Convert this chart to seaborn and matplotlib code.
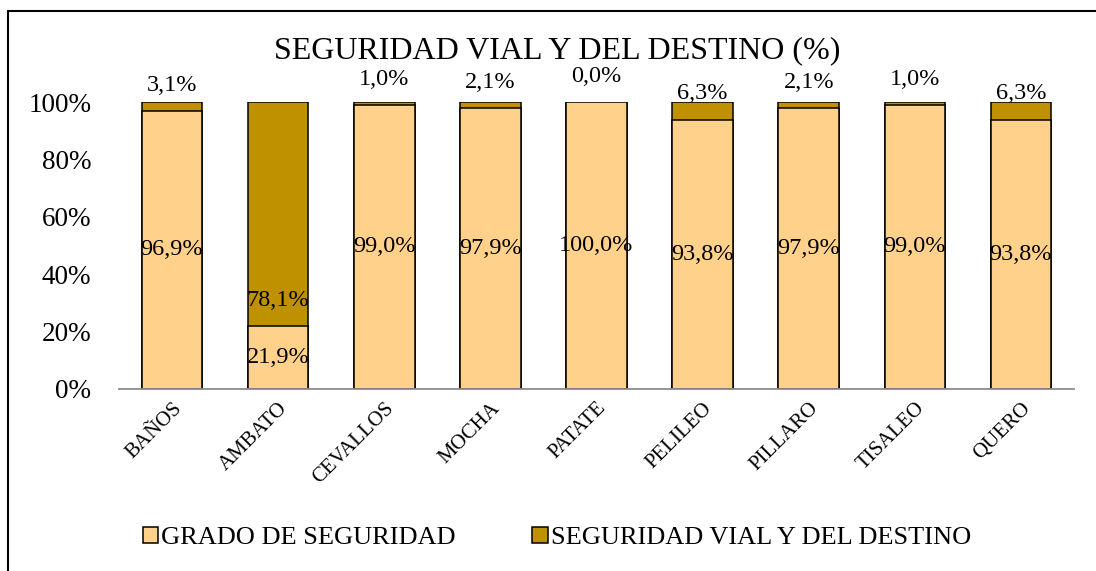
import pandas as pd
import matplotlib.pyplot as plt
import seaborn as sns
from matplotlib.lines import Line2D
from matplotlib.patches import Patch

# data (fractions of 1)
cantones = ['BAÑOS', 'AMBATO', 'CEVALLOS', 'MOCHA', 'PATATE',
            'PELILEO', 'PILLARO', 'TISALEO', 'QUERO']
grado_seguridad = [0.969, 0.219, 0.990, 0.979, 1.000, 0.938, 0.979, 0.990, 0.938]
seguridad_vial = [0.031, 0.781, 0.010, 0.021, 0.000, 0.063, 0.021, 0.010, 0.063]

LIGHT = '#FFD18A'
DARK = '#BF9000'

sns.set_theme(style='white')
plt.rcParams['font.family'] = ['Liberation Serif', 'DejaVu Serif']
plt.rcParams['text.color'] = 'black'
plt.rcParams['xtick.color'] = 'black'
plt.rcParams['ytick.color'] = 'black'

df = pd.DataFrame({'Canton': cantones,
                   'Grado': grado_seguridad,
                   'Vial': seguridad_vial})
df['Total'] = df['Grado'] + df['Vial']

fig = plt.figure(figsize=(10.96, 5.71), dpi=100)
ax = fig.add_axes([119 / 1096, 1 - 389 / 571, 955 / 1096, 287 / 571])

sns.barplot(x='Canton', y='Total', data=df, color=DARK, saturation=1,
            width=0.57, edgecolor='black', linewidth=1.1, ax=ax)
sns.barplot(x='Canton', y='Grado', data=df, color=LIGHT, saturation=1,
            width=0.57, edgecolor='black', linewidth=1.1, ax=ax)

def fmt(v):
    return f'{v * 100:.1f}%'.replace('.', ',')

for i, (g, v) in enumerate(zip(grado_seguridad, seguridad_vial)):
    ax.text(i, g / 2, fmt(g), ha='center', va='center', fontsize=17.5,
            color='black', clip_on=False)
    ax.text(i, g + 0.09, fmt(v), ha='center', va='center', fontsize=17.5,
            color='black', clip_on=False)

ax.set_xlim(-0.5, len(cantones) - 0.5)
ax.set_ylim(0, 1)
ax.set_yticks([0, 0.2, 0.4, 0.6, 0.8, 1.0])
ax.set_yticklabels(['0%', '20%', '40%', '60%', '80%', '100%'], fontsize=19.5)
ax.tick_params(axis='y', length=0, pad=20)
ax.tick_params(axis='x', length=0, pad=7)
plt.setp(ax.get_xticklabels(), rotation=45, ha='right', rotation_mode='anchor',
         fontsize=15)
ax.set_xlabel('')
ax.set_ylabel('')
for s in ['left', 'right', 'top']:
    ax.spines[s].set_visible(False)
ax.spines['bottom'].set_color('#8c8c8c')
ax.spines['bottom'].set_linewidth(1.3)

fig.text(0.508, 1 - 51 / 571, 'SEGURIDAD VIAL Y DEL DESTINO (%)', ha='center',
         va='center', fontsize=23)

handles = [Patch(facecolor=LIGHT, edgecolor='black', linewidth=1.1),
           Patch(facecolor=DARK, edgecolor='black', linewidth=1.1)]
fig.legend(handles, ['GRADO DE SEGURIDAD', 'SEGURIDAD VIAL Y DEL DESTINO'],
           loc='center', bbox_to_anchor=(0.508, 1 - 538 / 571), ncol=2,
           frameon=False, fontsize=19, handlelength=0.6, handleheight=0.6,
           handletextpad=0.1, columnspacing=2.9)

# chart frame (only left and top edges visible in the crop)
fig.add_artist(Line2D([7.5 / 1096, 7.5 / 1096], [0, 1 - 11 / 571],
                      color='black', linewidth=1.5))
fig.add_artist(Line2D([7.5 / 1096, 1], [1 - 11 / 571, 1 - 11 / 571],
                      color='black', linewidth=1.5))

fig.savefig('out.png', dpi=100)
